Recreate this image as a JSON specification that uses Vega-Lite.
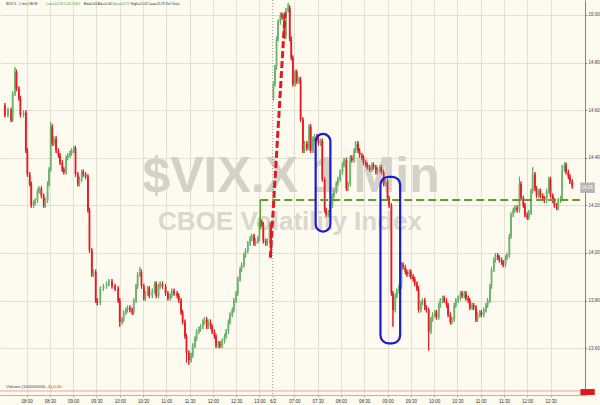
{
"$schema":"https://vega.github.io/schema/vega-lite/v6.json",
"width":585,"height":395,
"autosize":{"type":"none"},
"padding":{"left":0,"top":0,"right":15,"bottom":10},
"background":"#FDFAF0",
"config":{"view":{"stroke":null},"font":"Liberation Sans","axis":{"labelOverlap":false}},
"resolve":{"axis":{"x":"independent"}},
"datasets":{
"c":[
{"t":2,"o":14.62,"h":14.63,"l":14.57,"c":14.58},{"t":6,"o":14.58,"h":14.61,"l":14.57,"c":14.60},{"t":10,"o":14.60,"h":14.61,"l":14.55,"c":14.56},{"t":12,"o":14.56,"h":14.68,"l":14.55,"c":14.67},{"t":15,"o":14.67,"h":14.78,"l":14.66,"c":14.76},{"t":17,"o":14.76,"h":14.77,"l":14.68,"c":14.69},{"t":20,"o":14.69,"h":14.70,"l":14.64,"c":14.65},{"t":22,"o":14.65,"h":14.66,"l":14.57,"c":14.58},{"t":26,"o":14.58,"h":14.60,"l":14.57,"c":14.59},{"t":29,"o":14.59,"h":14.60,"l":14.42,"c":14.43},
{"t":31,"o":14.43,"h":14.44,"l":14.32,"c":14.33},{"t":34,"o":14.33,"h":14.34,"l":14.28,"c":14.29},{"t":36,"o":14.29,"h":14.30,"l":14.19,"c":14.20},{"t":39,"o":14.20,"h":14.22,"l":14.19,"c":14.21},{"t":41,"o":14.21,"h":14.23,"l":14.20,"c":14.22},{"t":44,"o":14.22,"h":14.27,"l":14.21,"c":14.26},{"t":46,"o":14.26,"h":14.28,"l":14.25,"c":14.27},{"t":49,"o":14.27,"h":14.28,"l":14.23,"c":14.24},{"t":52,"o":14.24,"h":14.25,"l":14.19,"c":14.20},{"t":54,"o":14.20,"h":14.23,"l":14.19,"c":14.22},
{"t":57,"o":14.22,"h":14.30,"l":14.21,"c":14.29},{"t":59,"o":14.29,"h":14.36,"l":14.28,"c":14.35},{"t":61,"o":14.35,"h":14.55,"l":14.34,"c":14.53},{"t":63,"o":14.53,"h":14.54,"l":14.45,"c":14.46},{"t":65,"o":14.46,"h":14.49,"l":14.45,"c":14.48},{"t":68,"o":14.48,"h":14.49,"l":14.42,"c":14.43},{"t":71,"o":14.43,"h":14.44,"l":14.40,"c":14.41},{"t":73,"o":14.41,"h":14.42,"l":14.37,"c":14.38},{"t":76,"o":14.38,"h":14.39,"l":14.34,"c":14.35},{"t":78,"o":14.35,"h":14.36,"l":14.33,"c":14.34},
{"t":81,"o":14.34,"h":14.41,"l":14.33,"c":14.40},{"t":83,"o":14.40,"h":14.42,"l":14.39,"c":14.41},{"t":86,"o":14.41,"h":14.43,"l":14.40,"c":14.42},{"t":88,"o":14.42,"h":14.44,"l":14.41,"c":14.43},{"t":91,"o":14.43,"h":14.45,"l":14.42,"c":14.44},{"t":93,"o":14.44,"h":14.45,"l":14.32,"c":14.33},{"t":96,"o":14.33,"h":14.34,"l":14.28,"c":14.29},{"t":98,"o":14.29,"h":14.32,"l":14.28,"c":14.31},{"t":101,"o":14.31,"h":14.35,"l":14.30,"c":14.34},{"t":103,"o":14.34,"h":14.35,"l":14.32,"c":14.33},
{"t":106,"o":14.33,"h":14.34,"l":14.31,"c":14.32},{"t":109,"o":14.32,"h":14.33,"l":14.17,"c":14.18},{"t":111,"o":14.18,"h":14.19,"l":14.00,"c":14.01},{"t":114,"o":14.01,"h":14.02,"l":13.90,"c":13.91},{"t":116,"o":13.91,"h":13.93,"l":13.90,"c":13.92},{"t":119,"o":13.92,"h":13.93,"l":13.79,"c":13.80},{"t":121,"o":13.80,"h":13.81,"l":13.78,"c":13.79},{"t":125,"o":13.79,"h":13.86,"l":13.78,"c":13.85},{"t":129,"o":13.85,"h":13.87,"l":13.84,"c":13.86},{"t":133,"o":13.86,"h":13.88,"l":13.85,"c":13.87},
{"t":136,"o":13.87,"h":13.89,"l":13.86,"c":13.88},{"t":140,"o":13.88,"h":13.89,"l":13.85,"c":13.86},{"t":144,"o":13.86,"h":13.87,"l":13.84,"c":13.85},{"t":148,"o":13.85,"h":13.86,"l":13.79,"c":13.80},{"t":150,"o":13.80,"h":13.81,"l":13.69,"c":13.71},{"t":153,"o":13.71,"h":13.73,"l":13.70,"c":13.72},{"t":155,"o":13.72,"h":13.76,"l":13.71,"c":13.75},{"t":158,"o":13.75,"h":13.77,"l":13.74,"c":13.76},{"t":160,"o":13.76,"h":13.78,"l":13.75,"c":13.77},{"t":163,"o":13.77,"h":13.78,"l":13.75,"c":13.76},
{"t":166,"o":13.76,"h":13.77,"l":13.74,"c":13.75},{"t":168,"o":13.75,"h":13.81,"l":13.74,"c":13.80},{"t":171,"o":13.80,"h":13.87,"l":13.79,"c":13.86},{"t":173,"o":13.86,"h":13.92,"l":13.85,"c":13.91},{"t":176,"o":13.91,"h":13.94,"l":13.90,"c":13.92},{"t":178,"o":13.92,"h":13.93,"l":13.85,"c":13.86},{"t":181,"o":13.86,"h":13.87,"l":13.80,"c":13.81},{"t":183,"o":13.81,"h":13.84,"l":13.80,"c":13.83},{"t":186,"o":13.83,"h":13.86,"l":13.82,"c":13.85},{"t":188,"o":13.85,"h":13.86,"l":13.81,"c":13.82},
{"t":192,"o":13.82,"h":13.85,"l":13.81,"c":13.84},{"t":195,"o":13.84,"h":13.88,"l":13.83,"c":13.87},{"t":197,"o":13.87,"h":13.88,"l":13.81,"c":13.82},{"t":200,"o":13.82,"h":13.87,"l":13.81,"c":13.86},{"t":202,"o":13.86,"h":13.88,"l":13.85,"c":13.87},{"t":205,"o":13.87,"h":13.88,"l":13.85,"c":13.86},{"t":209,"o":13.86,"h":13.87,"l":13.82,"c":13.83},{"t":212,"o":13.83,"h":13.84,"l":13.80,"c":13.81},{"t":215,"o":13.81,"h":13.83,"l":13.80,"c":13.82},{"t":217,"o":13.82,"h":13.85,"l":13.81,"c":13.84},
{"t":220,"o":13.84,"h":13.85,"l":13.82,"c":13.83},{"t":224,"o":13.83,"h":13.84,"l":13.81,"c":13.82},{"t":226,"o":13.82,"h":13.83,"l":13.79,"c":13.80},{"t":229,"o":13.80,"h":13.81,"l":13.74,"c":13.75},{"t":231,"o":13.75,"h":13.76,"l":13.70,"c":13.71},{"t":234,"o":13.71,"h":13.72,"l":13.64,"c":13.65},{"t":236,"o":13.65,"h":13.66,"l":13.54,"c":13.58},{"t":239,"o":13.58,"h":13.59,"l":13.53,"c":13.55},{"t":242,"o":13.55,"h":13.58,"l":13.54,"c":13.57},{"t":244,"o":13.57,"h":13.62,"l":13.56,"c":13.61},
{"t":247,"o":13.61,"h":13.65,"l":13.60,"c":13.64},{"t":249,"o":13.64,"h":13.68,"l":13.63,"c":13.67},{"t":252,"o":13.67,"h":13.69,"l":13.66,"c":13.68},{"t":254,"o":13.68,"h":13.70,"l":13.67,"c":13.69},{"t":257,"o":13.69,"h":13.72,"l":13.68,"c":13.71},{"t":259,"o":13.71,"h":13.73,"l":13.70,"c":13.72},{"t":262,"o":13.72,"h":13.73,"l":13.68,"c":13.69},{"t":264,"o":13.69,"h":13.72,"l":13.68,"c":13.71},{"t":267,"o":13.71,"h":13.72,"l":13.68,"c":13.69},{"t":269,"o":13.69,"h":13.70,"l":13.66,"c":13.67},
{"t":272,"o":13.67,"h":13.68,"l":13.64,"c":13.65},{"t":274,"o":13.65,"h":13.66,"l":13.60,"c":13.61},{"t":277,"o":13.61,"h":13.63,"l":13.60,"c":13.62},{"t":279,"o":13.62,"h":13.63,"l":13.60,"c":13.61},{"t":282,"o":13.61,"h":13.64,"l":13.60,"c":13.63},{"t":285,"o":13.63,"h":13.66,"l":13.62,"c":13.65},{"t":287,"o":13.65,"h":13.68,"l":13.64,"c":13.67},{"t":290,"o":13.67,"h":13.72,"l":13.66,"c":13.71},{"t":292,"o":13.71,"h":13.75,"l":13.70,"c":13.74},{"t":295,"o":13.74,"h":13.77,"l":13.73,"c":13.76},
{"t":297,"o":13.76,"h":13.81,"l":13.75,"c":13.80},{"t":300,"o":13.80,"h":13.84,"l":13.79,"c":13.83},{"t":302,"o":13.83,"h":13.90,"l":13.82,"c":13.89},{"t":305,"o":13.89,"h":13.94,"l":13.88,"c":13.93},{"t":307,"o":13.93,"h":13.96,"l":13.92,"c":13.95},{"t":310,"o":13.95,"h":14.00,"l":13.94,"c":13.99},{"t":312,"o":13.99,"h":14.02,"l":13.98,"c":14.01},{"t":315,"o":14.01,"h":14.05,"l":14.00,"c":14.04},{"t":318,"o":14.04,"h":14.07,"l":14.03,"c":14.06},{"t":320,"o":14.06,"h":14.08,"l":14.05,"c":14.07},
{"t":323,"o":14.07,"h":14.08,"l":14.03,"c":14.04},{"t":325,"o":14.04,"h":14.06,"l":14.03,"c":14.05},{"t":328,"o":14.05,"h":14.07,"l":14.04,"c":14.06},{"t":330,"o":14.06,"h":14.15,"l":14.05,"c":14.13},{"t":333,"o":14.13,"h":14.14,"l":14.11,"c":14.12},{"t":335,"o":14.12,"h":14.13,"l":14.04,"c":14.05},{"t":338,"o":14.05,"h":14.06,"l":14.03,"c":14.04},{"t":340,"o":14.04,"h":14.06,"l":14.03,"c":14.05},{"t":343,"o":14.05,"h":14.13,"l":14.04,"c":14.12},{"t":345,"o":14.12,"h":14.13,"l":13.98,"c":13.99},
{"t":348,"o":14.65,"h":14.72,"l":14.64,"c":14.71},{"t":350,"o":14.71,"h":14.79,"l":14.70,"c":14.78},{"t":352,"o":14.78,"h":14.91,"l":14.77,"c":14.90},{"t":354,"o":14.90,"h":14.98,"l":14.89,"c":14.97},{"t":357,"o":14.97,"h":15.01,"l":14.96,"c":15.00},{"t":359,"o":15.00,"h":15.01,"l":14.98,"c":14.99},{"t":362,"o":14.99,"h":15.00,"l":14.90,"c":14.91},{"t":364,"o":14.91,"h":15.03,"l":14.90,"c":15.02},{"t":367,"o":15.02,"h":15.05,"l":15.01,"c":15.03},{"t":369,"o":15.03,"h":15.04,"l":14.89,"c":14.90},
{"t":371,"o":14.90,"h":14.91,"l":14.81,"c":14.82},{"t":373,"o":14.82,"h":14.83,"l":14.70,"c":14.71},{"t":376,"o":14.71,"h":14.77,"l":14.70,"c":14.76},{"t":378,"o":14.76,"h":14.77,"l":14.71,"c":14.72},{"t":381,"o":14.72,"h":14.74,"l":14.71,"c":14.73},{"t":383,"o":14.73,"h":14.74,"l":14.55,"c":14.56},{"t":386,"o":14.56,"h":14.57,"l":14.42,"c":14.43},{"t":388,"o":14.43,"h":14.47,"l":14.42,"c":14.46},{"t":391,"o":14.46,"h":14.47,"l":14.43,"c":14.44},{"t":394,"o":14.44,"h":14.54,"l":14.43,"c":14.53},
{"t":396,"o":14.53,"h":14.54,"l":14.42,"c":14.43},{"t":399,"o":14.43,"h":14.49,"l":14.42,"c":14.48},{"t":401,"o":14.48,"h":14.50,"l":14.47,"c":14.49},{"t":404,"o":14.49,"h":14.50,"l":14.47,"c":14.48},{"t":406,"o":14.48,"h":14.49,"l":14.45,"c":14.46},{"t":409,"o":14.46,"h":14.48,"l":14.45,"c":14.47},{"t":411,"o":14.47,"h":14.48,"l":14.30,"c":14.31},{"t":414,"o":14.31,"h":14.32,"l":14.17,"c":14.18},{"t":416,"o":14.18,"h":14.19,"l":14.15,"c":14.16},{"t":419,"o":14.16,"h":14.18,"l":14.15,"c":14.17},
{"t":421,"o":14.17,"h":14.21,"l":14.16,"c":14.20},{"t":424,"o":14.20,"h":14.25,"l":14.19,"c":14.24},{"t":426,"o":14.24,"h":14.27,"l":14.23,"c":14.26},{"t":429,"o":14.26,"h":14.30,"l":14.25,"c":14.29},{"t":431,"o":14.29,"h":14.32,"l":14.28,"c":14.31},{"t":434,"o":14.31,"h":14.35,"l":14.30,"c":14.34},{"t":437,"o":14.34,"h":14.38,"l":14.33,"c":14.37},{"t":439,"o":14.37,"h":14.40,"l":14.36,"c":14.39},{"t":442,"o":14.39,"h":14.40,"l":14.26,"c":14.27},{"t":444,"o":14.27,"h":14.30,"l":14.26,"c":14.29},
{"t":447,"o":14.29,"h":14.41,"l":14.28,"c":14.40},{"t":449,"o":14.40,"h":14.41,"l":14.38,"c":14.39},{"t":452,"o":14.39,"h":14.44,"l":14.38,"c":14.43},{"t":454,"o":14.43,"h":14.47,"l":14.42,"c":14.46},{"t":457,"o":14.46,"h":14.47,"l":14.42,"c":14.43},{"t":459,"o":14.43,"h":14.44,"l":14.40,"c":14.41},{"t":462,"o":14.41,"h":14.42,"l":14.39,"c":14.40},{"t":464,"o":14.40,"h":14.41,"l":14.37,"c":14.38},{"t":467,"o":14.38,"h":14.39,"l":14.36,"c":14.37},{"t":469,"o":14.37,"h":14.38,"l":14.35,"c":14.36},
{"t":472,"o":14.36,"h":14.37,"l":14.34,"c":14.35},{"t":475,"o":14.35,"h":14.38,"l":14.34,"c":14.37},{"t":477,"o":14.37,"h":14.38,"l":14.35,"c":14.36},{"t":480,"o":14.36,"h":14.37,"l":14.33,"c":14.34},{"t":482,"o":14.34,"h":14.36,"l":14.33,"c":14.35},{"t":485,"o":14.35,"h":14.37,"l":14.34,"c":14.36},{"t":487,"o":14.36,"h":14.37,"l":14.33,"c":14.34},{"t":490,"o":14.34,"h":14.35,"l":14.28,"c":14.29},{"t":492,"o":14.29,"h":14.31,"l":14.28,"c":14.30},{"t":495,"o":14.30,"h":14.31,"l":14.22,"c":14.23},
{"t":497,"o":14.23,"h":14.24,"l":14.19,"c":14.20},{"t":500,"o":14.20,"h":14.21,"l":13.82,"c":13.83},{"t":502,"o":13.83,"h":13.84,"l":13.69,"c":13.76},{"t":505,"o":13.76,"h":13.83,"l":13.75,"c":13.82},{"t":507,"o":13.82,"h":13.85,"l":13.81,"c":13.84},{"t":510,"o":13.84,"h":13.87,"l":13.83,"c":13.86},{"t":513,"o":13.86,"h":13.96,"l":13.85,"c":13.95},{"t":515,"o":13.95,"h":13.96,"l":13.93,"c":13.94},{"t":518,"o":13.94,"h":13.95,"l":13.91,"c":13.92},{"t":520,"o":13.92,"h":13.93,"l":13.90,"c":13.91},
{"t":523,"o":13.91,"h":13.93,"l":13.90,"c":13.92},{"t":525,"o":13.92,"h":13.93,"l":13.89,"c":13.90},{"t":528,"o":13.90,"h":13.91,"l":13.88,"c":13.89},{"t":530,"o":13.89,"h":13.90,"l":13.86,"c":13.87},{"t":533,"o":13.87,"h":13.88,"l":13.84,"c":13.85},{"t":535,"o":13.85,"h":13.86,"l":13.75,"c":13.76},{"t":538,"o":13.76,"h":13.80,"l":13.75,"c":13.79},{"t":540,"o":13.79,"h":13.81,"l":13.78,"c":13.80},{"t":543,"o":13.80,"h":13.81,"l":13.76,"c":13.77},{"t":545,"o":13.77,"h":13.78,"l":13.75,"c":13.76},
{"t":548,"o":13.76,"h":13.77,"l":13.59,"c":13.67},{"t":551,"o":13.67,"h":13.73,"l":13.66,"c":13.72},{"t":553,"o":13.72,"h":13.75,"l":13.71,"c":13.74},{"t":556,"o":13.74,"h":13.76,"l":13.73,"c":13.75},{"t":558,"o":13.75,"h":13.76,"l":13.72,"c":13.73},{"t":561,"o":13.73,"h":13.79,"l":13.72,"c":13.78},{"t":563,"o":13.78,"h":13.81,"l":13.77,"c":13.80},{"t":566,"o":13.80,"h":13.82,"l":13.79,"c":13.81},{"t":568,"o":13.81,"h":13.82,"l":13.79,"c":13.80},{"t":571,"o":13.80,"h":13.81,"l":13.77,"c":13.78},
{"t":573,"o":13.78,"h":13.79,"l":13.73,"c":13.74},{"t":576,"o":13.74,"h":13.75,"l":13.70,"c":13.71},{"t":578,"o":13.71,"h":13.73,"l":13.70,"c":13.72},{"t":581,"o":13.72,"h":13.79,"l":13.71,"c":13.78},{"t":583,"o":13.78,"h":13.81,"l":13.77,"c":13.80},{"t":586,"o":13.80,"h":13.82,"l":13.79,"c":13.81},{"t":589,"o":13.81,"h":13.84,"l":13.80,"c":13.83},{"t":591,"o":13.83,"h":13.84,"l":13.81,"c":13.82},{"t":594,"o":13.82,"h":13.84,"l":13.81,"c":13.83},{"t":596,"o":13.83,"h":13.84,"l":13.80,"c":13.81},
{"t":599,"o":13.81,"h":13.82,"l":13.79,"c":13.80},{"t":601,"o":13.80,"h":13.81,"l":13.76,"c":13.77},{"t":604,"o":13.77,"h":13.79,"l":13.76,"c":13.78},{"t":606,"o":13.78,"h":13.79,"l":13.76,"c":13.77},{"t":609,"o":13.77,"h":13.78,"l":13.71,"c":13.72},{"t":611,"o":13.72,"h":13.75,"l":13.71,"c":13.74},{"t":614,"o":13.74,"h":13.76,"l":13.73,"c":13.75},{"t":616,"o":13.75,"h":13.76,"l":13.73,"c":13.74},{"t":619,"o":13.74,"h":13.77,"l":13.73,"c":13.76},{"t":622,"o":13.76,"h":13.79,"l":13.75,"c":13.78},
{"t":624,"o":13.78,"h":13.81,"l":13.77,"c":13.80},{"t":627,"o":13.80,"h":13.87,"l":13.79,"c":13.86},{"t":629,"o":13.86,"h":13.94,"l":13.85,"c":13.93},{"t":632,"o":13.93,"h":13.98,"l":13.92,"c":13.97},{"t":634,"o":13.97,"h":14.00,"l":13.96,"c":13.99},{"t":637,"o":13.99,"h":14.00,"l":13.97,"c":13.98},{"t":639,"o":13.98,"h":13.99,"l":13.96,"c":13.97},{"t":642,"o":13.97,"h":13.98,"l":13.95,"c":13.96},{"t":644,"o":13.96,"h":13.97,"l":13.94,"c":13.95},{"t":647,"o":13.95,"h":13.99,"l":13.94,"c":13.98},
{"t":649,"o":13.98,"h":14.00,"l":13.97,"c":13.99},{"t":652,"o":13.99,"h":14.08,"l":13.98,"c":14.07},{"t":654,"o":14.07,"h":14.17,"l":14.06,"c":14.16},{"t":657,"o":14.16,"h":14.19,"l":14.15,"c":14.18},{"t":659,"o":14.18,"h":14.20,"l":14.17,"c":14.19},{"t":662,"o":14.19,"h":14.20,"l":14.17,"c":14.18},{"t":665,"o":14.18,"h":14.32,"l":14.17,"c":14.29},{"t":667,"o":14.29,"h":14.30,"l":14.22,"c":14.23},{"t":670,"o":14.23,"h":14.24,"l":14.19,"c":14.20},{"t":672,"o":14.20,"h":14.21,"l":14.15,"c":14.16},
{"t":675,"o":14.16,"h":14.17,"l":14.14,"c":14.15},{"t":677,"o":14.15,"h":14.18,"l":14.14,"c":14.17},{"t":680,"o":14.17,"h":14.27,"l":14.16,"c":14.26},{"t":682,"o":14.26,"h":14.36,"l":14.25,"c":14.33},{"t":685,"o":14.33,"h":14.34,"l":14.26,"c":14.27},{"t":687,"o":14.27,"h":14.28,"l":14.23,"c":14.24},{"t":690,"o":14.24,"h":14.27,"l":14.23,"c":14.26},{"t":692,"o":14.26,"h":14.27,"l":14.23,"c":14.24},{"t":695,"o":14.24,"h":14.25,"l":14.22,"c":14.23},{"t":697,"o":14.23,"h":14.24,"l":14.21,"c":14.22},
{"t":700,"o":14.22,"h":14.27,"l":14.21,"c":14.26},{"t":703,"o":14.26,"h":14.32,"l":14.25,"c":14.31},{"t":705,"o":14.31,"h":14.32,"l":14.23,"c":14.24},{"t":708,"o":14.24,"h":14.25,"l":14.21,"c":14.22},{"t":710,"o":14.22,"h":14.23,"l":14.19,"c":14.20},{"t":713,"o":14.20,"h":14.21,"l":14.18,"c":14.19},{"t":715,"o":14.19,"h":14.23,"l":14.18,"c":14.22},{"t":718,"o":14.22,"h":14.24,"l":14.21,"c":14.23},{"t":720,"o":14.23,"h":14.37,"l":14.22,"c":14.35},{"t":723,"o":14.35,"h":14.38,"l":14.34,"c":14.37},
{"t":725,"o":14.37,"h":14.38,"l":14.33,"c":14.34},{"t":728,"o":14.34,"h":14.35,"l":14.31,"c":14.32},{"t":730,"o":14.32,"h":14.33,"l":14.29,"c":14.30},{"t":733,"o":14.30,"h":14.31,"l":14.27,"c":14.28}
],
"hdrK":[{"t":3.4,"s":"$VIX.X - 1 min  CBOE"},{"t":103.5,"s":"Bid=0.00 Ask=0.00"},{"t":164.3,"s":"High=15.05 Low=13.59 Vol Tot=0"}],
"hdrG":[{"t":55.3,"s":"Last=14.28  0.28  2.00%"},{"t":139,"s":"Open=14.72"}],
"boxes":[{"a":402.4,"b":421.4,"lo":14.09,"hi":14.50},{"a":485.9,"b":511.3,"lo":13.62,"hi":14.32}]
},
"layer":[
{"data":{"name":"c"},"mark":{"type":"rule","clip":true,"strokeWidth":1},
 "encoding":{
  "x":{"field":"t","type":"quantitative","scale":{"domain":[2.15,743],"nice":false,"zero":false},
   "axis":{"orient":"bottom","title":null,"values":[30,90,150,210,270,330,375,435,495,555,615,675],
    "labelExpr":"['08:00','09:00','10:00','11:00','12:00','13:00','07:00','08:00','09:00','10:00','11:00','12:00'][indexof([30,90,150,210,270,330,375,435,495,555,615,675], datum.value)]",
    "labelOverlap":false,"labelBound":false,"labelFlush":false,"labelFontSize":4.5,"labelColor":"#333333","labelPadding":1.5,
    "tickSize":2,"tickColor":"#E89A9A","domainColor":"#F09A9A",
    "grid":true,"gridColor":"#E3DFD2"}},
  "y":{"field":"l","type":"quantitative","scale":{"domain":[13.403,15.063],"nice":false,"zero":false},
   "axis":{"orient":"right","title":null,"values":[13.6,13.8,14.0,14.2,14.4,14.6,14.8,15.0],"format":".2f",
    "labelFontSize":4.5,"labelColor":"#444444","labelPadding":1,"tickSize":2,"tickColor":"#999999","domainColor":"#E05A5A",
    "grid":true,"gridColor":"#E3DFD2"}},
  "y2":{"field":"h"},
  "color":{"condition":{"test":"datum.c >= datum.o","value":"#5FAA5F"},"value":"#E31D25"}}},
{"data":{"values":[{}]},"mark":{"type":"text","align":"center","baseline":"alphabetic","fontSize":50,"fontWeight":"bold","color":"#D4D1C8"},
 "encoding":{"x":{"datum":370.7,"type":"quantitative","axis":null},"y":{"datum":14.256,"type":"quantitative"},"text":{"value":"$VIX.X 1 Min"}}},
{"data":{"values":[{}]},"mark":{"type":"text","align":"center","baseline":"alphabetic","fontSize":26,"fontWeight":"bold","color":"#DAD7CE"},
 "encoding":{"x":{"datum":369.4,"type":"quantitative","axis":null},"y":{"datum":14.096,"type":"quantitative"},"text":{"value":"CBOE Volatility Index"}}},
{"data":{"name":"c"},"mark":{"type":"rule","clip":true,"strokeWidth":1},
 "encoding":{"x":{"field":"t","type":"quantitative",
   "axis":{"orient":"bottom","title":null,"values":[60,120,180,240,300,347,405,465,525,585,645,705],
    "labelExpr":"['08:30','09:30','10:30','11:30','12:30','6/2','07:30','08:30','09:30','10:30','11:30','12:30'][indexof([60,120,180,240,300,347,405,465,525,585,645,705], datum.value)]",
    "labelOverlap":false,"labelBound":false,"labelFlush":false,"labelFontSize":4.5,"labelColor":"#333333","labelPadding":1.5,
    "tickSize":2,"tickColor":"#E89A9A","domainColor":"#F09A9A",
    "grid":true,"gridColor":"#E3DFD2","gridOpacity":{"condition":{"test":"datum.value == 347","value":0},"value":1}}},
  "y":{"field":"l","type":"quantitative"},"y2":{"field":"h"},
  "color":{"condition":{"test":"datum.c >= datum.o","value":"#5FAA5F"},"value":"#E31D25"}}},
{"data":{"name":"c"},"mark":{"type":"bar","size":1.8,"clip":true},
 "encoding":{"x":{"field":"t","type":"quantitative","axis":null},"y":{"field":"o","type":"quantitative"},"y2":{"field":"c"},
  "color":{"condition":{"test":"datum.c >= datum.o","value":"#6CB46C"},"value":"#E31D25"}}},
{"data":{"values":[{}]},"mark":{"type":"rule","color":"#9A9A9A","strokeDash":[1,2],"strokeWidth":1},
 "encoding":{"x":{"datum":347,"type":"quantitative","axis":null}}},
{"data":{"values":[{}]},"mark":{"type":"rule","color":"#F0A0A0","strokeWidth":1},
 "encoding":{"y":{"datum":13.42,"type":"quantitative"}}},
{"data":{"values":[{}]},"mark":{"type":"rule","color":"#5E9E24","strokeWidth":2,"strokeDash":[8,4]},
 "encoding":{"x":{"datum":331,"type":"quantitative","axis":null},"x2":{"datum":743},"y":{"datum":14.222,"type":"quantitative"}}},
{"data":{"values":[{}]},"mark":{"type":"rule","color":"#5E9E24","strokeWidth":1.5},
 "encoding":{"x":{"datum":331,"type":"quantitative","axis":null},"y":{"datum":14.222,"type":"quantitative"},"y2":{"datum":14.10}}},
{"data":{"values":[{}]},"mark":{"type":"rule","color":"#E8161E","strokeWidth":3,"strokeDash":[7,3]},
 "encoding":{"x":{"datum":344,"type":"quantitative","axis":null},"y":{"datum":13.98,"type":"quantitative"},"x2":{"datum":363},"y2":{"datum":15.01}}},
{"data":{"name":"boxes"},"mark":{"type":"rect","fillOpacity":0,"stroke":"#1B1BCF","strokeWidth":2.2,"cornerRadius":8},
 "encoding":{"x":{"field":"a","type":"quantitative","axis":null},"x2":{"field":"b"},"y":{"field":"lo","type":"quantitative"},"y2":{"field":"hi"}}},
{"data":{"name":"hdrK"},"mark":{"type":"text","align":"left","baseline":"middle","fontSize":3.3,"color":"#333333"},
 "encoding":{"x":{"field":"t","type":"quantitative","axis":null},"y":{"datum":15.046,"type":"quantitative"},"text":{"field":"s"}}},
{"data":{"name":"hdrG"},"mark":{"type":"text","align":"left","baseline":"middle","fontSize":3.3,"color":"#3DA33D"},
 "encoding":{"x":{"field":"t","type":"quantitative","axis":null},"y":{"datum":15.046,"type":"quantitative"},"text":{"field":"s"}}},
{"data":{"values":[{}]},"mark":{"type":"text","align":"left","baseline":"middle","fontSize":4.4,"color":"#444444"},
 "encoding":{"x":{"datum":3.4,"type":"quantitative","axis":null},"y":{"datum":13.436,"type":"quantitative"},"text":{"value":"Volume (100000000,-1),"}}},
{"data":{"values":[{}]},"mark":{"type":"text","align":"left","baseline":"middle","fontSize":4.4,"color":"#E31D25"},
 "encoding":{"x":{"datum":64.2,"type":"quantitative","axis":null},"y":{"datum":13.436,"type":"quantitative"},"text":{"value":"0.00"}}},
{"data":{"values":[{}]},"mark":{"type":"rect","color":"#B5B5B5"},
 "encoding":{"x":{"datum":743.5,"type":"quantitative","axis":null},"x2":{"datum":762},"y":{"datum":14.252,"type":"quantitative"},"y2":{"datum":14.296}}},
{"data":{"values":[{}]},"mark":{"type":"text","align":"left","baseline":"middle","fontSize":4.5,"color":"#FFFFFF"},
 "encoding":{"x":{"datum":745,"type":"quantitative","axis":null},"y":{"datum":14.274,"type":"quantitative"},"text":{"value":"14.28"}}},
{"data":{"values":[{}]},"mark":{"type":"rect","color":"#E8141C"},
 "encoding":{"x":{"datum":743.5,"type":"quantitative","axis":null},"x2":{"datum":762},"y":{"datum":13.403,"type":"quantitative"},"y2":{"datum":13.428}}}
]
}
